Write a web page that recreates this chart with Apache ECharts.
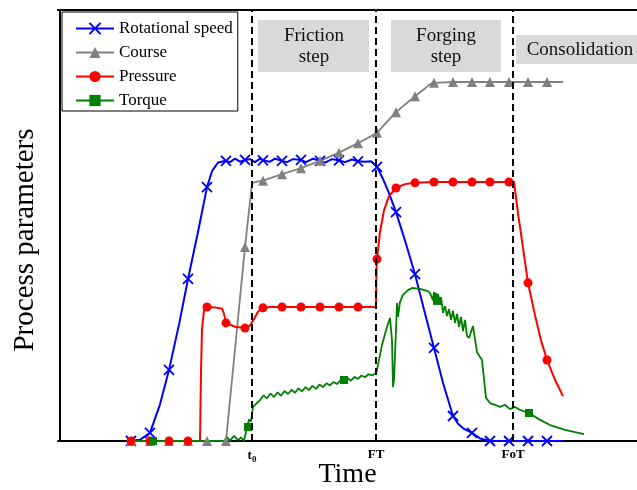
<!DOCTYPE html>
<html>
<head>
<meta charset="utf-8">
<script src="https://cdn.jsdelivr.net/npm/echarts@6/dist/echarts.min.js"></script>
<style>
  html, body { margin: 0; padding: 0; background: #fff; }
  #chart { width: 637px; height: 490px; }
</style>
</head>
<body>
<div id="chart"></div>
<script>
// time in arbitrary units, values in % of the plot height
var stepTimes = [19.2, 31.6, 45.3];
var stepLabels = ['t0', 'FT', 'FoT'];
var seriesNames = ['Rotational speed', 'Course', 'Pressure', 'Torque'];

var speedLine = [[7.0,0],[8.0,0.3],[10.0,8.5],[11.9,27.0],[13.8,48.5],[15.2,62.6],[15.8,64.6],
  [17.0,64.7],[17.5,65.5],[18.0,64.8],[19.0,65.4],[19.5,64.7],[20.0,65.5],[21.0,64.8],[21.5,65.5],
  [22.7,64.7],[23.3,65.4],[24.6,64.7],[25.3,65.5],[26.5,64.6],[27.2,65.4],[28.5,64.7],[29.2,65.3],
  [30.5,64.8],[31.1,64.9],[32.3,60.8],[32.9,57.5],[34.5,46.5],[36.4,30.5],[38.3,13.5],[39.8,4.0],
  [40.4,2.8],[42.0,0.6],[50.3,0]];
var speedMarks = [[7.1,0],[9.0,1.9],[10.9,16.5],[12.8,37.6],[14.7,58.9],[16.6,65.0],[18.5,65.2],
  [20.3,65.1],[22.2,65.0],[24.1,65.2],[26.0,65.0],[27.9,65.1],[29.8,64.9],[31.7,63.6],[33.6,53.1],
  [35.5,38.7],[37.4,21.6],[39.3,5.8],[41.2,1.9],[43.0,0],[44.9,0],[46.8,0],[48.7,0]];

var courseLine = [[16.8,0],[19.2,59.8],[19.6,60.1],[32.6,73.8],[36.5,81.8],[37.0,82.8],[50.3,83.3]];
var courseMarks = [[7.1,0],[9.0,0],[10.9,0],[12.8,0],[14.7,0],[16.6,0],[18.5,45.0],[20.3,60.4],
  [22.2,61.9],[24.1,63.3],[26.0,65.0],[27.9,66.9],[29.8,69.1],[31.7,71.5],[33.6,76.3],[35.5,80.0],
  [37.4,83.1],[39.3,83.3],[41.2,83.3],[43.0,83.3],[44.9,83.3],[46.8,83.3],[48.7,83.3]];

var pressureLine = [[14.0,0],[14.1,16],[14.2,26],[14.4,30.3],[15.5,31.0],[16.2,30.7],[16.4,29.5],
  [17.5,26.5],[19.0,26.8],[19.4,28.3],[19.8,30.0],[21.0,31.1],[31.6,31.1],[31.65,40.0],[32.0,48.5],
  [32.4,53.5],[32.9,56.8],[34.5,59.6],[45.4,60.2],[45.6,56.5],[45.8,52.8],[46.0,49.7],[46.4,43.2],
  [47.5,29.2],[48.1,23.4],[49.5,14.2],[50.3,10.4]];
var pressureMarks = [[7.1,0],[9.0,0],[10.9,0],[12.8,0],[14.7,31.1],[16.6,27.4],[18.5,26.2],[20.3,30.9],
  [22.2,31.1],[24.1,31.1],[26.0,31.1],[27.9,31.1],[29.8,31.1],[31.7,42.2],[33.6,58.7],[35.5,59.9],
  [37.4,60.1],[39.3,60.1],[41.2,60.1],[43.0,60.1],[44.9,60.1],[46.8,36.7],[48.7,18.8]];

var torqueLine = [[7.1,0],[16.4,0],[16.7,0.9],[17.0,0.1],[17.4,1.2],[17.8,0.2],[18.1,0.8],[18.4,0.1],
  [18.6,0.3],[18.7,3.0],[18.9,5.0],[19.1,4.5],[19.3,7.9],[20.0,9.5],[20.35,10.6],[20.7,9.9],
  [21.05,11.0],[21.4,10.2],[21.75,11.3],[22.1,10.5],[22.45,11.6],[22.8,10.9],[23.15,11.9],[23.5,11.2],
  [23.85,12.2],[24.2,11.5],[24.55,12.5],[24.9,11.8],[25.25,12.8],[25.6,12.1],[25.95,13.1],[26.3,12.5],
  [26.65,13.4],[27.0,12.9],[27.35,13.7],[27.7,13.2],[28.05,14.1],[28.75,14.6],[29.1,14.0],[29.45,14.9],
  [29.8,14.4],[30.15,15.2],[30.5,14.8],[30.85,15.5],[31.2,15.2],[31.6,15.8],[31.7,16.5],[32.2,22.3],
  [32.7,26.5],[33.0,28.5],[33.2,23.4],[33.3,12.5],[33.4,14.2],[33.6,25.8],[33.7,32.0],[33.8,28.8],
  [34.0,32.3],[34.3,33.9],[34.8,35.0],[35.2,35.5],[36.0,35.3],[36.8,34.8],[37.0,34.3],[37.2,34.3],
  [37.3,32.7],[37.4,34.6],[37.5,32.0],[37.6,34.3],[37.8,34.1],[38.0,31.6],[38.1,33.4],[38.3,29.7],
  [38.5,31.3],[38.7,29.0],[38.9,30.6],[39.1,28.1],[39.3,30.2],[39.5,27.4],[39.7,29.5],[39.9,26.5],
  [40.1,28.8],[40.3,25.5],[40.5,28.1],[40.7,24.4],[40.9,23.9],[41.1,25.3],[41.3,26.7],[41.7,20.6],
  [42.2,18.8],[42.6,10.0],[43.0,8.8],[43.5,8.4],[44.0,7.9],[44.5,8.4],[45.0,7.4],[45.5,7.9],
  [46.0,7.2],[48.0,4.9],[49.0,3.7],[50.5,2.6],[52.4,1.6]];
var torqueMarks = [[9.3,0],[18.8,3.25],[28.4,14.15],[37.7,32.5],[46.9,6.5]];

var serif = 'Liberation Serif';

// join line points and marker points, only the marker points get a symbol
function build(line, marks) {
  var items = line.map(function (p) { return { value: p, symbol: 'none' }; });
  marks.forEach(function (p) { items.push({ value: p }); });
  items.sort(function (a, b) { return a.value[0] - b.value[0]; });
  return items;
}

function lineSeries(name, color, symbol, size, line, marks, width) {
  return {
    name: name,
    type: 'line',
    color: color,
    data: build(line, marks),
    symbol: symbol,
    symbolSize: size,
    showAllSymbol: true,
    lineStyle: { color: color, width: width },
    itemStyle: { color: color, borderColor: color, borderWidth: symbol.indexOf('path') === 0 ? 1.8 : 0 },
    emphasis: { disabled: true },
    animation: false
  };
}

var chart = echarts.init(document.getElementById('chart'));

var option = {
  backgroundColor: '#fff',
  animation: false,
  grid: { left: 58, right: 0, top: 10, bottom: 49, containLabel: false, outerBoundsMode: 'none' },
  legend: {
    data: seriesNames,
    orient: 'vertical',
    left: 62,
    top: 12,
    padding: [8, 5, 2, 13],
    itemGap: 7,
    itemWidth: 38,
    itemHeight: 14,
    borderColor: '#000',
    borderWidth: 1,
    textStyle: { fontFamily: serif, fontSize: 17, color: '#000' }
  },
  xAxis: {
    type: 'value',
    min: -0.2,
    max: 57.7,
    name: 'Time',
    nameLocation: 'middle',
    nameGap: 20,
    nameMoveOverlap: false,
    nameTextStyle: { fontFamily: serif, fontSize: 28, color: '#000' },
    axisLine: { lineStyle: { color: '#000', width: 2 } },
    axisTick: { show: false },
    splitLine: { show: false },
    axisLabel: {
      customValues: stepTimes,
      margin: 7,
      formatter: function (v) {
        var i = stepTimes.indexOf(v);
        if (stepLabels[i] === 't0') return '{b|t}{s|0}';
        return '{b|' + stepLabels[i] + '}';
      },
      rich: {
        b: { fontFamily: serif, fontWeight: 'bold', fontSize: 13, color: '#000' },
        s: { fontFamily: serif, fontWeight: 'bold', fontSize: 9, color: '#000', padding: [7, 0, 0, 0] }
      }
    }
  },
  yAxis: {
    type: 'value',
    min: 0,
    max: 100,
    axisLine: { show: true, lineStyle: { color: '#000', width: 2 } },
    axisTick: { show: false },
    axisLabel: { show: false },
    splitLine: { show: false }
  },
  graphic: [
    { type: 'line', shape: { x1: 57, y1: 10, x2: 637, y2: 10 }, style: { stroke: '#000', lineWidth: 2 }, z: 10 },
    { type: 'text', x: 25, y: 240, rotation: Math.PI / 2,
      style: { text: 'Process parameters', fontFamily: serif, fontSize: 29, fill: '#000', align: 'center', verticalAlign: 'middle' } },
    { type: 'rect', shape: { x: 258, y: 20, width: 111, height: 52 }, style: { fill: '#d9d9d9' }, z: 1 },
    { type: 'text', x: 314, y: 47, z: 2,
      style: { text: 'Friction\nstep', fontFamily: serif, fontSize: 19, lineHeight: 21, fill: '#111', align: 'center', verticalAlign: 'middle' } },
    { type: 'rect', shape: { x: 391, y: 20, width: 110, height: 52 }, style: { fill: '#d9d9d9' }, z: 1 },
    { type: 'text', x: 446, y: 47, z: 2,
      style: { text: 'Forging\nstep', fontFamily: serif, fontSize: 19, lineHeight: 21, fill: '#111', align: 'center', verticalAlign: 'middle' } },
    { type: 'rect', shape: { x: 516, y: 35, width: 125, height: 29 }, style: { fill: '#d9d9d9' }, z: 1 },
    { type: 'text', x: 580, y: 50, z: 2,
      style: { text: 'Consolidation', fontFamily: serif, fontSize: 19, fill: '#111', align: 'center', verticalAlign: 'middle' } }
  ],
  series: [
    lineSeries('Rotational speed', '#0000ff', 'path://M0 0L10 10M10 0L0 10', 10, speedLine, speedMarks, 2),
    lineSeries('Course', '#808080', 'triangle', 10, courseLine, courseMarks, 1.8),
    lineSeries('Pressure', '#ff0000', 'circle', 9, pressureLine, pressureMarks, 2),
    lineSeries('Torque', '#008000', 'rect', 8, torqueLine, torqueMarks, 1.8),
    {
      name: 'steps',
      type: 'line',
      data: [],
      silent: true,
      markLine: {
        silent: true,
        symbol: ['none', 'none'],
        label: { show: false },
        lineStyle: { color: '#000', type: [7, 4], width: 2 },
        data: stepTimes.map(function (t) { return { xAxis: t }; })
      }
    }
  ]
};

chart.setOption(option);
</script>
</body>
</html>
